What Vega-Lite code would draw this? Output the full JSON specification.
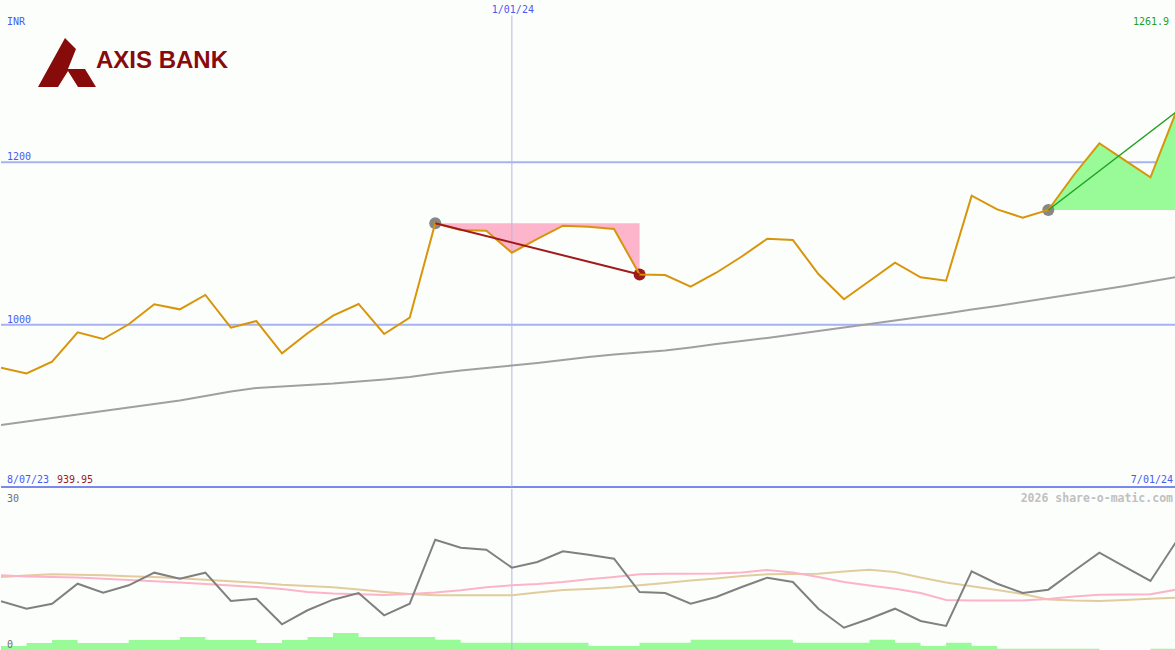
{
  "$schema": "https://vega.github.io/schema/vega-lite/v6.json",
  "background": "#fcfefc",
  "padding": 0,
  "spacing": 0,
  "config": {"view": {"stroke": null}, "concat": {"spacing": 0}},
  "datasets": {
    "w": [
      {"i":0,"price":947.0,"ma":876.4,"osc":9.33,"pk":14.12,"tan":13.80,"vol":1.10},
      {"i":1,"price":939.95,"ma":880.7,"osc":7.97,"pk":13.90,"tan":14.08,"vol":1.66},
      {"i":2,"price":954.4,"ma":885.0,"osc":8.89,"pk":13.80,"tan":14.30,"vol":2.21},
      {"i":3,"price":990.6,"ma":889.3,"osc":12.57,"pk":13.71,"tan":14.21,"vol":1.66},
      {"i":4,"price":982.3,"ma":893.6,"osc":10.91,"pk":13.49,"tan":14.12,"vol":1.66},
      {"i":5,"price":1000.5,"ma":897.9,"osc":12.28,"pk":13.25,"tan":13.95,"vol":2.21},
      {"i":6,"price":1025.1,"ma":902.3,"osc":14.60,"pk":13.01,"tan":13.80,"vol":2.21},
      {"i":7,"price":1018.9,"ma":906.6,"osc":13.49,"pk":12.79,"tan":13.57,"vol":2.76},
      {"i":8,"price":1036.6,"ma":912.1,"osc":14.60,"pk":12.52,"tan":13.31,"vol":2.21},
      {"i":9,"price":996.3,"ma":917.7,"osc":9.39,"pk":12.24,"tan":13.01,"vol":2.21},
      {"i":10,"price":1004.5,"ma":922.0,"osc":9.81,"pk":11.96,"tan":12.74,"vol":1.66},
      {"i":11,"price":964.7,"ma":923.8,"osc":5.10,"pk":11.60,"tan":12.39,"vol":2.21},
      {"i":12,"price":989.4,"ma":925.7,"osc":7.68,"pk":11.04,"tan":12.15,"vol":2.76},
      {"i":13,"price":1011.1,"ma":927.5,"osc":9.63,"pk":10.77,"tan":11.91,"vol":3.50},
      {"i":14,"price":1025.5,"ma":930.0,"osc":10.86,"pk":10.62,"tan":11.50,"vol":2.76},
      {"i":15,"price":988.5,"ma":932.4,"osc":6.75,"pk":10.49,"tan":11.04,"vol":2.76},
      {"i":16,"price":1008.6,"ma":935.5,"osc":8.89,"pk":10.68,"tan":10.68,"vol":2.76},
      {"i":17,"price":1124.9,"ma":939.8,"osc":20.67,"pk":10.95,"tan":10.44,"vol":2.26},
      {"i":18,"price":1116.6,"ma":943.5,"osc":19.20,"pk":11.36,"tan":10.44,"vol":1.71},
      {"i":19,"price":1115.8,"ma":946.6,"osc":18.83,"pk":11.93,"tan":10.44,"vol":1.71},
      {"i":20,"price":1088.7,"ma":949.7,"osc":15.52,"pk":12.28,"tan":10.44,"vol":1.71},
      {"i":21,"price":1105.6,"ma":952.8,"osc":16.57,"pk":12.52,"tan":10.95,"vol":1.71},
      {"i":22,"price":1121.9,"ma":956.5,"osc":18.53,"pk":12.88,"tan":11.41,"vol":1.71},
      {"i":23,"price":1120.7,"ma":960.2,"osc":17.91,"pk":13.38,"tan":11.60,"vol":1.10},
      {"i":24,"price":1117.9,"ma":963.3,"osc":17.17,"pk":13.80,"tan":11.87,"vol":1.10},
      {"i":25,"price":1061.8,"ma":965.7,"osc":11.04,"pk":14.30,"tan":12.28,"vol":1.71},
      {"i":26,"price":1061.2,"ma":968.2,"osc":10.86,"pk":14.41,"tan":12.70,"vol":1.71},
      {"i":27,"price":1046.8,"ma":971.9,"osc":8.89,"pk":14.41,"tan":13.16,"vol":2.26},
      {"i":28,"price":1064.0,"ma":976.2,"osc":10.12,"pk":14.45,"tan":13.53,"vol":2.26},
      {"i":29,"price":1084.0,"ma":979.9,"osc":11.96,"pk":14.63,"tan":13.99,"vol":2.26},
      {"i":30,"price":1105.9,"ma":983.6,"osc":13.68,"pk":15.09,"tan":14.30,"vol":2.26},
      {"i":31,"price":1104.3,"ma":987.9,"osc":12.88,"pk":14.63,"tan":14.36,"vol":1.71},
      {"i":32,"price":1062.4,"ma":992.2,"osc":7.97,"pk":13.80,"tan":14.41,"vol":1.71},
      {"i":33,"price":1031.3,"ma":996.5,"osc":4.47,"pk":12.88,"tan":14.82,"vol":1.71},
      {"i":34,"price":1053.8,"ma":1000.8,"osc":6.13,"pk":12.24,"tan":15.15,"vol":2.26},
      {"i":35,"price":1076.3,"ma":1005.1,"osc":7.97,"pk":11.65,"tan":14.72,"vol":1.71},
      {"i":36,"price":1058.4,"ma":1009.4,"osc":5.71,"pk":10.86,"tan":13.71,"vol":1.10},
      {"i":37,"price":1054.2,"ma":1013.8,"osc":4.79,"pk":9.57,"tan":12.79,"vol":1.71},
      {"i":38,"price":1158.9,"ma":1018.7,"osc":14.85,"pk":9.46,"tan":12.09,"vol":1.10},
      {"i":39,"price":1142.1,"ma":1023.0,"osc":12.57,"pk":9.46,"tan":11.41,"vol":0.61},
      {"i":40,"price":1131.8,"ma":1027.9,"osc":10.86,"pk":9.46,"tan":10.68,"vol":0.61},
      {"i":41,"price":1141.3,"ma":1032.9,"osc":11.47,"pk":9.76,"tan":9.66,"vol":0.61},
      {"i":42,"price":1184.4,"ma":1037.8,"osc":14.91,"pk":10.22,"tan":9.46,"vol":0.61},
      {"i":43,"price":1223.5,"ma":1042.7,"osc":18.28,"pk":10.55,"tan":9.39,"vol":0},
      {"i":44,"price":1202.5,"ma":1047.6,"osc":15.65,"pk":10.58,"tan":9.57,"vol":0},
      {"i":45,"price":1181.6,"ma":1053.2,"osc":13.07,"pk":10.62,"tan":9.79,"vol":0.61},
      {"i":46,"price":1261.9,"ma":1058.7,"osc":20.25,"pk":11.47,"tan":9.99,"vol":0.61}
    ]
  },
  "vconcat": [
    {
      "width": 1175,
      "height": 487,
      "data": {"name": "w"},
      "layer": [
        {
          "data": {"values": [{"level": 1200}, {"level": 1000}]},
          "mark": {"type": "rule", "color": "#a6b2f2", "strokeWidth": 2},
          "encoding": {"y": {"field": "level", "type": "quantitative", "scale": {"domain": [800, 1400], "nice": false, "zero": false}, "axis": null}}
        },
        {
          "data": {"values": [{"level": 800}]},
          "mark": {"type": "rule", "color": "#7b89ee", "strokeWidth": 2},
          "encoding": {"y": {"field": "level", "type": "quantitative", "scale": {"domain": [800, 1400], "nice": false, "zero": false}, "axis": null}}
        },
        {
          "transform": [{"filter": "datum.i >= 17 && datum.i <= 25"}],
          "mark": {"type": "area", "color": "#fdb5cb", "opacity": 1, "clip": true},
          "encoding": {
            "x": {"field": "i", "type": "quantitative", "scale": {"domain": [0, 46], "nice": false, "zero": false}, "axis": null},
            "y": {"field": "price", "type": "quantitative", "scale": {"domain": [800, 1400], "nice": false, "zero": false}, "axis": null},
            "y2": {"datum": 1124.9}
          }
        },
        {
          "transform": [{"filter": "datum.i >= 41"}],
          "mark": {"type": "area", "color": "#98fb98", "opacity": 1, "clip": true},
          "encoding": {
            "x": {"field": "i", "type": "quantitative", "scale": {"domain": [0, 46], "nice": false, "zero": false}, "axis": null},
            "y": {"field": "price", "type": "quantitative", "scale": {"domain": [800, 1400], "nice": false, "zero": false}, "axis": null},
            "y2": {"datum": 1141.3}
          }
        },
        {
          "data": {"values": [{"d": 20}]},
          "mark": {"type": "rule", "color": "#b3b8e2", "strokeWidth": 1},
          "encoding": {
            "x": {"field": "d", "type": "quantitative", "scale": {"domain": [0, 46], "nice": false, "zero": false}, "axis": null},
            "y": {"datum": 1381, "type": "quantitative", "scale": {"domain": [800, 1400], "nice": false, "zero": false}, "axis": null},
            "y2": {"datum": 800}
          }
        },
        {
          "mark": {"type": "line", "color": "#a0a0a0", "strokeWidth": 2, "clip": true},
          "encoding": {
            "x": {"field": "i", "type": "quantitative", "scale": {"domain": [0, 46], "nice": false, "zero": false}, "axis": null},
            "y": {"field": "ma", "type": "quantitative", "scale": {"domain": [800, 1400], "nice": false, "zero": false}, "axis": null}
          }
        },
        {
          "transform": [{"filter": "datum.i == 17 || datum.i == 41"}],
          "mark": {"type": "point", "filled": true, "color": "#878787", "size": 144, "opacity": 1},
          "encoding": {
            "x": {"field": "i", "type": "quantitative", "scale": {"domain": [0, 46], "nice": false, "zero": false}, "axis": null},
            "y": {"field": "price", "type": "quantitative", "scale": {"domain": [800, 1400], "nice": false, "zero": false}, "axis": null}
          }
        },
        {
          "transform": [{"filter": "datum.i == 25"}],
          "mark": {"type": "point", "filled": true, "color": "#a01a1a", "size": 144, "opacity": 1},
          "encoding": {
            "x": {"field": "i", "type": "quantitative", "scale": {"domain": [0, 46], "nice": false, "zero": false}, "axis": null},
            "y": {"field": "price", "type": "quantitative", "scale": {"domain": [800, 1400], "nice": false, "zero": false}, "axis": null}
          }
        },
        {
          "mark": {"type": "line", "color": "#d8950a", "strokeWidth": 2, "clip": true},
          "encoding": {
            "x": {"field": "i", "type": "quantitative", "scale": {"domain": [0, 46], "nice": false, "zero": false}, "axis": null},
            "y": {"field": "price", "type": "quantitative", "scale": {"domain": [800, 1400], "nice": false, "zero": false}, "axis": null}
          }
        },
        {
          "transform": [{"filter": "datum.i == 17 || datum.i == 25"}],
          "mark": {"type": "line", "color": "#a01a1a", "strokeWidth": 2},
          "encoding": {
            "x": {"field": "i", "type": "quantitative", "scale": {"domain": [0, 46], "nice": false, "zero": false}, "axis": null},
            "y": {"field": "price", "type": "quantitative", "scale": {"domain": [800, 1400], "nice": false, "zero": false}, "axis": null}
          }
        },
        {
          "transform": [{"filter": "datum.i == 41 || datum.i == 46"}],
          "mark": {"type": "line", "color": "#22a022", "strokeWidth": 1.5, "clip": true},
          "encoding": {
            "x": {"field": "i", "type": "quantitative", "scale": {"domain": [0, 46], "nice": false, "zero": false}, "axis": null},
            "y": {"field": "price", "type": "quantitative", "scale": {"domain": [800, 1400], "nice": false, "zero": false}, "axis": null}
          }
        },
        {
          "data": {"values": [{"t": "INR", "x": 0, "y": 1369.2}, {"t": "1200", "x": 0, "y": 1202.4}, {"t": "1000", "x": 0, "y": 1002.4}, {"t": "8/07/23", "x": 0, "y": 804.9}]},
          "mark": {"type": "text", "align": "left", "baseline": "alphabetic", "dx": 6, "font": "DejaVu Sans Mono", "fontSize": 10, "color": "#4a5af0"},
          "encoding": {
            "x": {"field": "x", "type": "quantitative", "scale": {"domain": [0, 46], "nice": false, "zero": false}, "axis": null},
            "y": {"field": "y", "type": "quantitative", "scale": {"domain": [800, 1400], "nice": false, "zero": false}, "axis": null},
            "text": {"field": "t"}
          }
        },
        {
          "data": {"values": [{"t": "1/01/24", "x": 20, "y": 1384}]},
          "mark": {"type": "text", "align": "center", "baseline": "alphabetic", "dx": 1, "font": "DejaVu Sans Mono", "fontSize": 10, "color": "#4a5af0"},
          "encoding": {
            "x": {"field": "x", "type": "quantitative", "scale": {"domain": [0, 46], "nice": false, "zero": false}, "axis": null},
            "y": {"field": "y", "type": "quantitative", "scale": {"domain": [800, 1400], "nice": false, "zero": false}, "axis": null},
            "text": {"field": "t"}
          }
        },
        {
          "data": {"values": [{"t": "7/01/24", "x": 46, "y": 804.9}]},
          "mark": {"type": "text", "align": "right", "baseline": "alphabetic", "dx": -3, "font": "DejaVu Sans Mono", "fontSize": 10, "color": "#4a5af0"},
          "encoding": {
            "x": {"field": "x", "type": "quantitative", "scale": {"domain": [0, 46], "nice": false, "zero": false}, "axis": null},
            "y": {"field": "y", "type": "quantitative", "scale": {"domain": [800, 1400], "nice": false, "zero": false}, "axis": null},
            "text": {"field": "t"}
          }
        },
        {
          "data": {"values": [{"t": "1261.9", "x": 46, "y": 1369.2}]},
          "mark": {"type": "text", "align": "right", "baseline": "alphabetic", "dx": -7, "font": "DejaVu Sans Mono", "fontSize": 10, "color": "#22a022"},
          "encoding": {
            "x": {"field": "x", "type": "quantitative", "scale": {"domain": [0, 46], "nice": false, "zero": false}, "axis": null},
            "y": {"field": "y", "type": "quantitative", "scale": {"domain": [800, 1400], "nice": false, "zero": false}, "axis": null},
            "text": {"field": "t"}
          }
        },
        {
          "data": {"values": [{"t": "939.95", "x": 0, "y": 804.9}]},
          "mark": {"type": "text", "align": "left", "baseline": "alphabetic", "dx": 56, "font": "DejaVu Sans Mono", "fontSize": 10, "color": "#a01a1a"},
          "encoding": {
            "x": {"field": "x", "type": "quantitative", "scale": {"domain": [0, 46], "nice": false, "zero": false}, "axis": null},
            "y": {"field": "y", "type": "quantitative", "scale": {"domain": [800, 1400], "nice": false, "zero": false}, "axis": null},
            "text": {"field": "t"}
          }
        },
        {
          "data": {"values": [{"t": "AXIS BANK", "x": 3.72, "y": 1316.2}]},
          "mark": {"type": "text", "align": "left", "baseline": "alphabetic", "font": "Liberation Sans", "fontWeight": "bold", "fontSize": 24, "color": "#870b0b"},
          "encoding": {
            "x": {"field": "x", "type": "quantitative", "scale": {"domain": [0, 46], "nice": false, "zero": false}, "axis": null},
            "y": {"field": "y", "type": "quantitative", "scale": {"domain": [800, 1400], "nice": false, "zero": false}, "axis": null},
            "text": {"field": "t"}
          }
        },
        {
          "data": {"values": [{"x": 2.584, "y": 1323}]},
          "mark": {"type": "point", "filled": true, "opacity": 1, "color": "#870b0b", "size": 3364, "shape": "M-1,0.845L-0.069,-0.845L0.31,-0.466L0.034,0.224L0.621,0.224L1,0.845L0.379,0.845L0.034,0.293L-0.31,0.845Z"},
          "encoding": {
            "x": {"field": "x", "type": "quantitative", "scale": {"domain": [0, 46], "nice": false, "zero": false}, "axis": null},
            "y": {"field": "y", "type": "quantitative", "scale": {"domain": [800, 1400], "nice": false, "zero": false}, "axis": null}
          }
        }
      ]
    },
    {
      "width": 1175,
      "height": 163,
      "data": {"name": "w"},
      "layer": [
        {
          "mark": {"type": "area", "interpolate": "step-after", "color": "#98fb98", "opacity": 1, "clip": true},
          "encoding": {
            "x": {"field": "i", "type": "quantitative", "scale": {"domain": [0, 46], "nice": false, "zero": false}, "axis": null},
            "y": {"field": "vol", "type": "quantitative", "scale": {"domain": [0, 30], "nice": false, "zero": false}, "axis": null}
          }
        },
        {
          "data": {"values": [{"d": 20}]},
          "mark": {"type": "rule", "color": "#b3b8e2", "strokeWidth": 1},
          "encoding": {
            "x": {"field": "d", "type": "quantitative", "scale": {"domain": [0, 46], "nice": false, "zero": false}, "axis": null}
          }
        },
        {
          "mark": {"type": "line", "color": "#e2cc9e", "strokeWidth": 2, "clip": true},
          "encoding": {
            "x": {"field": "i", "type": "quantitative", "scale": {"domain": [0, 46], "nice": false, "zero": false}, "axis": null},
            "y": {"field": "tan", "type": "quantitative", "scale": {"domain": [0, 30], "nice": false, "zero": false}, "axis": null}
          }
        },
        {
          "mark": {"type": "line", "color": "#fcb4c8", "strokeWidth": 2, "clip": true},
          "encoding": {
            "x": {"field": "i", "type": "quantitative", "scale": {"domain": [0, 46], "nice": false, "zero": false}, "axis": null},
            "y": {"field": "pk", "type": "quantitative", "scale": {"domain": [0, 30], "nice": false, "zero": false}, "axis": null}
          }
        },
        {
          "mark": {"type": "line", "color": "#808080", "strokeWidth": 2, "clip": true},
          "encoding": {
            "x": {"field": "i", "type": "quantitative", "scale": {"domain": [0, 46], "nice": false, "zero": false}, "axis": null},
            "y": {"field": "osc", "type": "quantitative", "scale": {"domain": [0, 30], "nice": false, "zero": false}, "axis": null}
          }
        },
        {
          "data": {"values": [{"t": "30", "x": 0, "y": 27.6}, {"t": "0", "x": 0, "y": 0.8}]},
          "mark": {"type": "text", "align": "left", "baseline": "alphabetic", "dx": 6, "font": "DejaVu Sans Mono", "fontSize": 10, "color": "#707070"},
          "encoding": {
            "x": {"field": "x", "type": "quantitative", "scale": {"domain": [0, 46], "nice": false, "zero": false}, "axis": null},
            "y": {"field": "y", "type": "quantitative", "scale": {"domain": [0, 30], "nice": false, "zero": false}, "axis": null},
            "text": {"field": "t"}
          }
        },
        {
          "data": {"values": [{"t": "2026 share-o-matic.com", "x": 46, "y": 27.6}]},
          "mark": {"type": "text", "align": "right", "baseline": "alphabetic", "dx": -3, "font": "DejaVu Sans Mono", "fontSize": 11.5, "fontWeight": "bold", "color": "#c0c0c0"},
          "encoding": {
            "x": {"field": "x", "type": "quantitative", "scale": {"domain": [0, 46], "nice": false, "zero": false}, "axis": null},
            "y": {"field": "y", "type": "quantitative", "scale": {"domain": [0, 30], "nice": false, "zero": false}, "axis": null},
            "text": {"field": "t"}
          }
        }
      ]
    }
  ]
}
